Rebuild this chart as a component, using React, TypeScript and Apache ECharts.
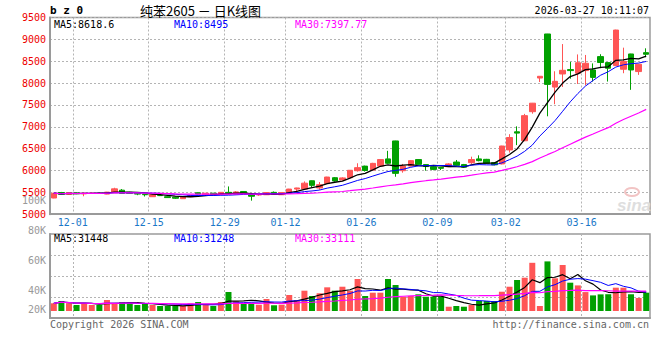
import React, { useEffect, useRef } from "react";
import * as echarts from "echarts";

const dates = [
  "11-27", "11-28",
  "12-01", "12-02", "12-03", "12-04", "12-05", "12-08", "12-09", "12-10", "12-11", "12-12",
  "12-15", "12-16", "12-17", "12-18", "12-19", "12-22", "12-23", "12-24", "12-25", "12-26",
  "12-29", "12-30", "12-31",
  "01-05", "01-06", "01-07", "01-08", "01-09", "01-12", "01-13", "01-14", "01-15", "01-16",
  "01-19", "01-20", "01-21", "01-22", "01-23", "01-26", "01-27", "01-28", "01-29", "01-30",
  "02-02", "02-03", "02-04", "02-05", "02-06", "02-09", "02-10", "02-11", "02-12", "02-13",
  "02-24", "02-25", "02-26", "02-27",
  "03-02", "03-03", "03-04", "03-05", "03-06", "03-09", "03-10", "03-11", "03-12", "03-13",
  "03-16", "03-17", "03-18", "03-19", "03-20", "03-23", "03-24", "03-25", "03-26", "03-27",
];

const opens = [
  5370, 5495, 5455, 5485, 5465, 5475, 5482, 5460, 5490, 5550,
  5500, 5480, 5455, 5400, 5430, 5400, 5390, 5355, 5400, 5490,
  5445, 5480, 5455, 5500, 5460, 5520, 5445, 5440, 5445, 5500,
  5445, 5480, 5575, 5575, 5765, 5600, 5700, 5835, 5785, 5835,
  5995, 6100, 6010, 6100, 6265, 6676, 5995, 6102, 6250, 6135,
  6087, 6072, 6087, 6193, 6135, 6178, 6265, 6255, 6180, 6150,
  6470, 6885, 6680, 7345, 8115, 9123, 7908, 8208, 8308, 8225,
  8286, 8300, 8605, 8468, 8400, 8316, 8666, 8263, 8696,
];
const closes = [
  5480, 5455, 5490, 5470, 5480, 5482, 5476, 5505, 5580, 5475,
  5475, 5460, 5445, 5445, 5425, 5380, 5365, 5395, 5430, 5460,
  5480, 5450, 5500, 5465, 5510, 5470, 5410, 5450, 5495, 5455,
  5495, 5575, 5600, 5710, 5660, 5675, 5850, 5760, 5830, 6005,
  6065, 6000, 6163, 6250, 6165, 5934, 6100, 6225, 6140, 6090,
  6025, 6050, 6150, 6117, 6075, 6251, 6225, 6163, 6130, 6560,
  6755, 6855, 7255, 7540, 8155, 7970, 8040, 8292, 8285, 8465,
  8453, 8130, 8470, 8339, 9213, 8491, 8300, 8430, 8659,
];
const highs = [
  5485, 5510, 5495, 5495, 5490, 5490, 5490, 5510, 5605, 5575,
  5510, 5490, 5460, 5450, 5440, 5405, 5400, 5400, 5440, 5500,
  5485, 5485, 5505, 5635, 5530, 5525, 5450, 5460, 5500, 5520,
  5500, 5580, 5605, 5750, 5770, 5735, 5855, 5850, 5845, 6010,
  6165, 6110, 6175, 6260, 6450, 6680, 6150, 6235, 6260, 6145,
  6095, 6080, 6165, 6240, 6150, 6316, 6347, 6265, 6190, 6565,
  6830, 7010, 7295, 7545, 8160, 9125, 8270, 8892, 8485, 8655,
  8643, 8450, 8660, 8470, 9220, 8810, 8670, 8440, 8795,
];
const lows = [
  5365, 5450, 5450, 5460, 5410, 5465, 5470, 5455, 5485, 5470,
  5465, 5435, 5405, 5395, 5415, 5375, 5350, 5350, 5395, 5455,
  5440, 5445, 5450, 5455, 5455, 5465, 5310, 5420, 5440, 5450,
  5440, 5470, 5480, 5570, 5620, 5560, 5690, 5745, 5770, 5830,
  5975, 5975, 6000, 6090, 6150, 5857, 5950, 6095, 6130, 5995,
  6005, 6010, 6080, 6100, 6060, 6150, 6210, 6150, 6120, 6140,
  6410, 6580, 6670, 7300, 8025, 7240, 7516, 7910, 8100, 7980,
  7950, 8035, 8340, 8035, 8390, 8225, 7845, 8187, 8590,
];
const volumes = [
  12800, 16600, 12800, 10000, 13300, 10000, 10000, 18300, 11600, 14900,
  14900, 10000, 11600, 10000, 8300, 8300, 8300, 8300, 12800, 14900,
  11600, 8300, 14900, 31500, 16100, 12800, 13800, 10500, 19900, 9500,
  10500, 26600, 18300, 33700, 24900, 29400, 39300, 33700, 40300, 33700,
  53100, 24900, 30400, 30400, 53100, 43200, 23700, 24900, 27700, 23700,
  23700, 23700, 7100, 8300, 7100, 10000, 16600, 16600, 16600, 32000,
  40300, 51500, 55300, 80000, 8300, 82350, 54300, 76400, 47000, 42500,
  31400, 25900, 27600, 27840, 38700, 38700, 27800, 21640, 30400,
];

const labelDates = ["12-01", "12-15", "12-29", "01-12", "01-26", "02-09", "03-02", "03-16"];
const priceAxis = { min: 5000, max: 9500, step: 500 };
const volLabelAxis = { min: 20000, max: 100000, step: 20000 };

const titleText = "纯苯2605 － 日K线图";
const codeText = "b z 0";
const timeText = "2026-03-27 10:11:07";
const priceMaTexts = ["MA5:8618.6", "MA10:8495", "MA30:7397.77"];
const volMaTexts = ["MA5:31448", "MA10:31248", "MA30:33111"];
const copyrightText = "Copyright 2026 SINA.COM";
const urlText = "http://finance.sina.com.cn";

const MONO = "'DejaVu Sans Mono', monospace";
const RED = "#ff5555";
const GREEN = "#00a000";
const GRID = "#b4b4b4";
const AXIS = "#9a9a9a";
const MA_COLORS = ["#000000", "#0000ff", "#ff00ff"];

function movingAverage(values: number[], n: number): number[] {
  return values.map((_, i) => {
    const s = Math.max(0, i - n + 1);
    let sum = 0;
    for (let k = s; k <= i; k++) sum += values[k];
    return +(sum / (i - s + 1)).toFixed(2);
  });
}

function txt(x: number, y: number, text: string, font: string, fill: string, align = "left") {
  return {
    type: "text",
    x,
    y,
    silent: true,
    z: 100,
    style: {
      text,
      font,
      fill,
      align,
      verticalAlign: "middle",
      textAlign: align,
      textVerticalAlign: "middle",
    },
  };
}

export default function App() {
  const ref = useRef<HTMLDivElement>(null);

  useEffect(() => {
    if (!ref.current) return;
    const chart = echarts.init(ref.current, null, { renderer: "svg" });

    const labelIdx = new Set(labelDates.map((d) => dates.indexOf(d)));
    const candleData = dates.map((_, i) => [opens[i], closes[i], lows[i], highs[i]]);
    const volData = volumes.map((v, i) => ({
      value: v,
      itemStyle: { color: closes[i] >= opens[i] ? RED : GREEN },
    }));
    const pMA = [5, 10, 30].map((n) => movingAverage(closes, n));
    const vMA = [5, 10, 30].map((n) => movingAverage(volumes, n));

    const dotted = { color: GRID, width: 1, type: [2, 2] as any };

    const lineSeries = (data: number[], color: string, xi: number, width: number) => ({
      type: "line",
      xAxisIndex: xi,
      yAxisIndex: xi,
      data,
      symbol: "none",
      showSymbol: false,
      silent: true,
      z: 5,
      lineStyle: { color, width },
      itemStyle: { color },
      emphasis: { disabled: true },
    });

    const option: any = {
      animation: false,
      backgroundColor: "#ffffff",
      grid: [
        { left: 50, top: 17.5, width: 600, height: 196.7, show: true, borderColor: AXIS, borderWidth: 1.5, outerBoundsMode: "none" },
        { left: 50, top: 234, width: 600, height: 84, show: true, borderColor: AXIS, borderWidth: 1.5, outerBoundsMode: "none" },
        { left: 50, top: 200, width: 600, height: 120.9, show: false, outerBoundsMode: "none" },
      ],
      xAxis: [
        {
          type: "category",
          gridIndex: 0,
          data: dates,
          boundaryGap: true,
          axisLine: { show: true, onZero: false, lineStyle: { color: AXIS, width: 2 } },
          axisTick: { show: false },
          axisLabel: {
            interval: (i: number) => labelIdx.has(i),
            formatter: (v: string) => `{a|${v}}`,
            margin: 3,
            rich: { a: { color: "#1a78c8", fontFamily: MONO, fontSize: 10, padding: [0, 0, 0, 7.6] } },
          },
          splitLine: { show: true, interval: (i: number) => labelIdx.has(i - 1), lineStyle: dotted },
        },
        {
          type: "category",
          gridIndex: 1,
          data: dates,
          boundaryGap: true,
          axisLine: { show: true, onZero: false, lineStyle: { color: AXIS, width: 2 } },
          axisTick: { show: false },
          axisLabel: { show: false },
          splitLine: { show: true, interval: (i: number) => labelIdx.has(i - 1), lineStyle: dotted },
        },
        { type: "value", gridIndex: 2, show: false, min: 0, max: 1 },
      ],
      yAxis: [
        {
          type: "value",
          gridIndex: 0,
          min: priceAxis.min,
          max: priceAxis.max,
          interval: priceAxis.step,
          axisLine: { show: true, lineStyle: { color: AXIS, width: 2 } },
          axisTick: { show: false },
          axisLabel: {
            color: "#ee0000",
            fontFamily: MONO,
            fontSize: 10,
            margin: 4,
            padding: [0, 0, 4, 0],
            formatter: (v: number) => String(v),
          },
          splitLine: { show: true, lineStyle: dotted },
        },
        {
          type: "value",
          gridIndex: 1,
          min: -11620,
          max: 127820,
          axisLine: { show: true, lineStyle: { color: AXIS, width: 2 } },
          axisTick: { show: false },
          axisLabel: { show: false },
          splitLine: { show: false },
        },
        {
          type: "value",
          gridIndex: 1,
          position: "right",
          min: 0,
          max: 4,
          interval: 1,
          axisLine: { show: false },
          axisTick: { show: false },
          axisLabel: { show: false },
          splitLine: { show: true, lineStyle: dotted },
        },
        {
          type: "value",
          gridIndex: 2,
          min: volLabelAxis.min,
          max: volLabelAxis.max,
          interval: volLabelAxis.step,
          axisLine: { show: false },
          axisTick: { show: false },
          splitLine: { show: false },
          axisLabel: {
            margin: 4,
            formatter: (v: number) => (v === volLabelAxis.min ? `{b|${v / 1000}K}` : `{a|${v / 1000}K}`),
            rich: {
              a: { color: "#999999", fontFamily: MONO, fontSize: 10 },
              b: { color: "#999999", fontFamily: MONO, fontSize: 10, padding: [0, 0, 22, 0] },
            },
          },
        },
      ],
      series: [
        {
          type: "candlestick",
          xAxisIndex: 0,
          yAxisIndex: 0,
          data: candleData,
          barWidth: 6,
          silent: true,
          itemStyle: { color: RED, color0: GREEN, borderColor: RED, borderColor0: GREEN, borderWidth: 1 },
        },
        lineSeries(pMA[0], MA_COLORS[0], 0, 1.3),
        lineSeries(pMA[1], MA_COLORS[1], 0, 1),
        lineSeries(pMA[2], MA_COLORS[2], 0, 1.2),
        {
          type: "bar",
          xAxisIndex: 1,
          yAxisIndex: 1,
          data: volData,
          barWidth: 6,
          silent: true,
        },
        lineSeries(vMA[0], MA_COLORS[0], 1, 1.2),
        lineSeries(vMA[1], MA_COLORS[1], 1, 1),
        lineSeries(vMA[2], MA_COLORS[2], 1, 1.2),
      ],
      graphic: [
        txt(50, 10.5, codeText, `bold 11px ${MONO}`, "#000000"),
        txt(140, 10, titleText, "13px 'Noto Sans CJK SC'", "#000000"),
        txt(649, 10.5, timeText, `10px ${MONO}`, "#000000", "right"),
        txt(54, 24.5, priceMaTexts[0], `10px ${MONO}`, MA_COLORS[0]),
        txt(174, 24.5, priceMaTexts[1], `10px ${MONO}`, MA_COLORS[1]),
        txt(295, 24.5, priceMaTexts[2], `10px ${MONO}`, MA_COLORS[2]),
        txt(54, 238, volMaTexts[0], `10px ${MONO}`, MA_COLORS[0]),
        txt(174, 238, volMaTexts[1], `10px ${MONO}`, MA_COLORS[1]),
        txt(295, 238, volMaTexts[2], `10px ${MONO}`, MA_COLORS[2]),
        txt(50, 324, copyrightText, `10px ${MONO}`, "#666666"),
        txt(649, 324, urlText, `10px ${MONO}`, "#666666", "right"),
        {
          type: "ellipse",
          silent: true,
          z: 1,
          shape: { cx: 632, cy: 192, rx: 7, ry: 4 },
          style: { fill: "none", stroke: "#f2c4c4", lineWidth: 2 },
        },
        {
          type: "text",
          x: 617,
          y: 205,
          silent: true,
          z: 1,
          style: {
            text: "sina",
            font: "italic bold 17px 'Liberation Sans'",
            fill: "#dedede",
            align: "left",
            verticalAlign: "middle",
            textAlign: "left",
            textVerticalAlign: "middle",
          },
        },
      ],
    };

    chart.setOption(option);
    return () => chart.dispose();
  }, []);

  return (
    <div
      ref={ref}
      style={{ position: "fixed", left: 0, top: 0, width: 660, height: 360, background: "#ffffff" }}
    />
  );
}
